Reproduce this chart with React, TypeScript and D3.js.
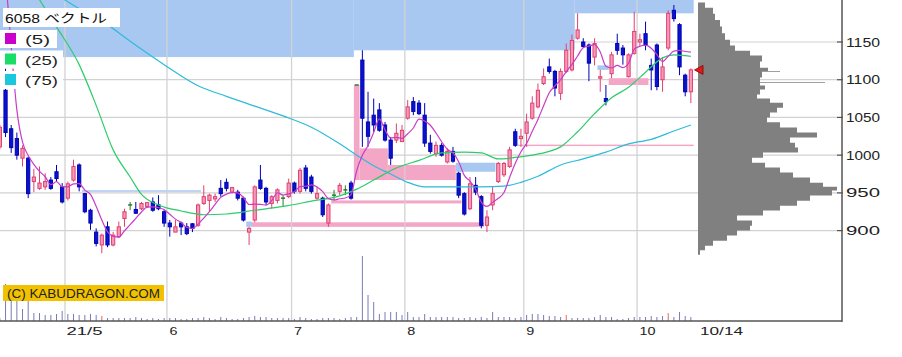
import React from "react";
import * as d3 from "d3";

// ---------- DATA ----------
const opens = [1011,1086,1035,1022,996,996,965,956,958,967,978,958,943,967,987,949,927,898,881,905,881,892,916,934,928,929,932,938,934,925,910,898,910,905,909,907,936,940,942,956,964,951,951,943,898,914,967,956,936,940,943,945,963,952,983,971,943,943,910,947,952,954,963,1093,1126,1044,1053,1060,1040,1020,1020,1018,1049,1071,1069,1053,1016,1002,1013,991,1005,976,949,929,960,945,907,934,965,974,985,1031,1022,1029,1049,1064,1095,1117,1111,1082,1111,1113,1155,1150,1146,1130,1102,1075,1108,1148,1142,1104,1135,1150,1161,1119,1146,1100,1142,1192,1173,1106,1084];
const highs = [1040,1115,1040,1030,1013,998,982,985,976,971,987,963,965,994,989,950,929,903,896,912,898,912,929,938,938,938,938,944,947,927,914,914,912,910,910,936,960,949,949,967,969,958,954,945,905,960,987,958,947,956,947,969,965,983,987,974,958,945,936,954,963,960,966,1093,1139,1084,1075,1069,1044,1024,1042,1040,1073,1077,1073,1069,1027,1018,1016,1009,1011,978,951,971,971,947,927,958,991,991,1011,1035,1035,1055,1078,1095,1115,1128,1113,1115,1148,1160,1188,1155,1148,1155,1113,1093,1137,1161,1146,1135,1190,1161,1177,1128,1148,1130,1192,1199,1175,1108,1115];
const lows = [1008,1024,1003,994,985,943,951,954,954,954,965,936,940,965,952,923,901,879,870,878,879,890,905,927,922,927,930,925,927,905,892,898,894,894,898,905,934,925,938,945,952,949,940,912,881,911,954,934,929,936,932,943,949,949,952,949,941,918,905,940,947,947,941,1093,1011,1011,1031,1031,1018,987,1016,1018,1047,1053,1053,1011,1002,998,998,989,990,943,920,927,947,903,898,927,963,971,983,1011,1011,1011,1047,1062,1093,1108,1078,1073,1109,1111,1153,1142,1098,1119,1084,1066,1102,1133,1120,1103,1133,1144,1139,1086,1086,1084,1139,1177,1106,1078,1069];
const closes = [1037,1030,1010,1000,1009,949,971,963,965,956,969,938,962,985,958,925,910,883,894,881,894,905,925,934,923,936,937,927,929,910,905,905,905,896,903,934,945,947,945,949,956,957,943,914,903,958,956,938,945,954,943,963,952,980,956,952,949,921,934,947,960,954,943,1093,1049,1025,1040,1033,1020,996,1029,1033,1064,1058,1055,1016,1005,1013,1000,1005,992,947,922,962,951,907,918,949,989,989,1007,1013,1025,1044,1069,1086,1104,1111,1089,1111,1139,1152,1166,1144,1122,1148,1104,1071,1133,1139,1133,1133,1164,1153,1146,1113,1091,1117,1188,1181,1117,1084,1113];
const volumes = [30,370,250,240,120,220,80,80,60,60,70,100,70,70,60,60,70,60,50,30,30,30,30,30,40,30,20,30,20,30,30,30,20,20,30,30,40,30,20,40,30,20,20,30,40,50,40,40,30,30,30,30,20,40,30,20,20,30,30,30,20,30,40,40,650,260,190,70,90,90,90,60,90,40,40,70,40,40,40,40,40,30,30,40,30,40,30,90,40,40,40,30,40,60,70,70,60,50,50,40,60,30,30,30,30,40,60,40,40,20,20,30,40,40,40,50,40,50,80,40,90,50,40];
const redVolumeIdx = [18, 100, 118];

const ma5Lead = [1330, 1238, 1144, 1060];
const ma25Idx = [0,3,7,10,14,17,20,23,25,28,32,36,40,45,50,55,60,63,66,70,74,78,82,85,88,91,94,97,99,102,105,108,111,114,117,119,122];
const ma25Val = [1286,1252,1206,1170,1120,1066,1007,971,948,934,926,921,922,927,932,939,946,955,967,983,993,1003,1004,1003,995,997,1000,1005,1011,1031,1055,1076,1090,1110,1129,1133,1131];
const ma75Idx = [0,6,11,15,18,23,29,35,40,45,50,55,60,63,66,69,72,75,80,85,89,92,95,99,103,107,111,115,119,122];
const ma75Val = [1265,1235,1208,1190,1178,1151,1120,1092,1078,1065,1052,1037,1015,1000,986,975,964,958,958,958,959,964,972,987,995,1004,1015,1021,1032,1040];

// gap-down windows (blue) and gap-up windows (pink)
const blueStart = [0, 63, 102, 15, 44, 81, 106];
const blueEnd = [62, 101, 122, 35, 44, 87, 107];
const blueLow = [1130, 1139, 1188, 951.5, 905, 978, 1113];
const blueHigh = [1260, 1260, 1260, 953.5, 912, 990, 1119];
const pinkStart = [63, 64, 69, 59, 45, 92, 108];
const pinkEnd = [63, 68, 80, 81, 85, 122, 114];
const pinkLow = [967, 967, 967, 936, 905, 1012, 1093];
const pinkHigh = [1093, 1009, 987, 940, 911, 1014, 1102];

const profilePrice = [1199,1192,1183,1175,1166,1157,1149,1142,1135,1129,1119,1113,1112,1111,1110,1106,1100,1097,1096,1095,1090,1084,1077,1073,1066,1060,1053,1047,1040,1033,1027,1020,1013,1007,1000,993,987,980,974,967,960,956,950,943,936,930,923,917,910,903,897,890,883,877,871];
const profileVol = [7,15,17,22,24,27,32,37,52,64,62,70,70,82,64,64,62,62,127,62,67,62,59,72,85,79,72,69,82,99,119,92,97,100,65,54,67,82,95,112,125,139,134,112,99,82,65,39,54,52,39,29,15,7,2];

const monthIdx = [12, 30, 52, 72, 93, 113];
const monthLabels = ["21/5", "6", "7", "8", "9", "10"];
const lastDateLabel = "10/14";
const priceTicks = [900, 950, 1000, 1050, 1100, 1150];
const title = "6058 ベクトル";
const maLabels = ["(5)", "(25)", "(75)"];
const copyright = "(C) KABUDRAGON.COM";

// ---------- CHART ----------
const W = 902, H = 357;
const N = closes.length;
const FONT = "'Liberation Sans', Arial, 'Noto Sans CJK JP', sans-serif";

export default function App() {
  const x = d3.scaleBand<number>().domain(d3.range(N)).range([-2.96, 693.7]).paddingInner(0).paddingOuter(0);
  const bw = x.bandwidth();
  const cx = (i: number) => (x(i) as number) + bw / 2;
  const y = d3.scaleLinear().domain([900, 1150]).range([230.6, 42]);
  const vol = d3.scaleLinear().domain([0, 650]).range([321, 256]);
  const prof = d3.scaleLinear().domain([0, 139]).range([698, 837]);

  const ma5: number[] = closes.map((_, i) => (i < 4 ? ma5Lead[i] : d3.mean(closes.slice(i - 4, i + 1)) as number));
  const line = d3.line<[number, number]>().x(d => cx(d[0])).y(d => y(d[1])).curve(d3.curveMonotoneX);
  const ma5Path = line(ma5.map((v, i) => [i, v]))!;
  const ma25Path = line(ma25Idx.map((k, j) => [k, ma25Val[j]]))!;
  const ma75Path = line(ma75Idx.map((k, j) => [k, ma75Val[j]]))!;

  const zoneRect = (s: number, e: number, lo: number, hi: number, fill: string, key: string) => (
    <rect key={key} x={x(s) as number} width={(x(e) as number) + bw - (x(s) as number)} y={y(hi)} height={y(lo) - y(hi)} fill={fill} />
  );

  // volume profile as one stepped outline
  const edges = profilePrice.map((p, j) => {
    const top = j === 0 ? p + 3.5 : (p + profilePrice[j - 1]) / 2;
    const bot = j === profilePrice.length - 1 ? p - 3 : (p + profilePrice[j + 1]) / 2;
    return { top: y(top), bot: y(bot), w: prof(profileVol[j]) };
  });
  let profD = `M698,${edges[0].top}`;
  edges.forEach(e => { profD += ` L${e.w},${e.top} L${e.w},${e.bot}`; });
  profD += ` L698,${edges[edges.length - 1].bot} Z`;

  const lastY = y(closes[N - 1]);

  return (
    <svg width={W} height={H} style={{ position: "absolute", left: 0, top: 0, background: "#fff" }} fontFamily={FONT}>
      <rect x={0} y={0} width={W} height={H} fill="#fff" />
      <defs>
        <clipPath id="plot"><rect x={0} y={0} width={842} height={321} /></clipPath>
      </defs>
      <g clipPath="url(#plot)">
        {/* horizontal grid */}
        {priceTicks.map(t => <line key={"hg" + t} x1={0} x2={842} y1={y(t)} y2={y(t)} stroke="#d2d2d2" strokeWidth={1.2} />)}
        {/* zones */}
        {blueStart.map((s, j) => zoneRect(s, blueEnd[j], blueLow[j], blueHigh[j], "#a8c8f2", "bz" + j))}
        {pinkStart.map((s, j) => zoneRect(s, pinkEnd[j], pinkLow[j], pinkHigh[j], "#f3a6c6", "pz" + j))}
        {/* vertical grid */}
        {monthIdx.map(k => <line key={"vg" + k} x1={x(k) as number} x2={x(k) as number} y1={0} y2={321} stroke="#d2d2d2" strokeWidth={1.3} />)}
        {/* volume */}
        {volumes.map((v, i) => (
          <line key={"v" + i} x1={cx(i)} x2={cx(i)} y1={321} y2={vol(v)} stroke={redVolumeIdx.includes(i) ? "#e06a6a" : "#7a7ab8"} strokeWidth={1} />
        ))}
        {/* candles */}
        {closes.map((c, i) => {
          const o = opens[i], h = highs[i], l = lows[i];
          const X = cx(i);
          if (o === c) {
            return (
              <g key={"c" + i}>
                <line x1={X} x2={X} y1={y(h)} y2={y(l)} stroke="#2a7a2a" strokeWidth={1} />
                <line x1={X - 2} x2={X + 2} y1={y(c)} y2={y(c)} stroke="#2a7a2a" strokeWidth={1.5} />
              </g>
            );
          }
          const up = c > o;
          const stroke = up ? "#e0406e" : "#0000b4";
          const fill = up ? "#f59abb" : "#0a14cc";
          const top = y(Math.max(o, c)), bot = y(Math.min(o, c));
          return (
            <g key={"c" + i}>
              <line x1={X} x2={X} y1={y(h)} y2={y(l)} stroke={stroke} strokeWidth={1} />
              <rect x={X - 1.6} y={top} width={3.2} height={Math.max(1, bot - top)} fill={fill} stroke={stroke} strokeWidth={1} />
            </g>
          );
        })}
        {/* moving averages */}
        <path d={ma75Path} fill="none" stroke="#2cbcd8" strokeWidth={1.2} />
        <path d={ma25Path} fill="none" stroke="#2ccc6a" strokeWidth={1.2} />
        <path d={ma5Path} fill="none" stroke="#c83cc8" strokeWidth={1.2} />
        {/* volume profile */}
        <path d={profD} fill="#808080" stroke="none" />
        {/* last price marker */}
        <path d={`M694.5,${lastY} L703,${lastY - 4.5} L703,${lastY + 4.5} Z`} fill="#e01a1a" stroke="#8a0000" strokeWidth={0.8} />
      </g>
      {/* axes */}
      <line x1={842} x2={842} y1={0} y2={322} stroke="#555" strokeWidth={1.5} />
      <line x1={0} x2={842} y1={321} y2={321} stroke="#555" strokeWidth={1.5} />
      {priceTicks.map(t => (
        <g key={"yt" + t}>
          <line x1={837} x2={843} y1={y(t)} y2={y(t)} stroke="#555" strokeWidth={1.2} />
          <text x={846} y={y(t) + 4.5} fontSize={12} fill="#222" textLength={34} lengthAdjust="spacingAndGlyphs">{t}</text>
        </g>
      ))}
      {monthIdx.map((k, j) => (
        <text key={"xl" + k} x={(x(k) as number) + (j === 0 ? 1.5 : 2.5)} y={335} fontSize={11.5} fill="#222"
          textLength={j === 0 ? 36 : monthLabels[j].length * 8} lengthAdjust="spacingAndGlyphs">{monthLabels[j]}</text>
      ))}
      <text x={700} y={335} fontSize={11.5} fill="#222" textLength={43} lengthAdjust="spacingAndGlyphs">{lastDateLabel}</text>
      {/* legend */}
      <rect x={3} y={8} width={117} height={19} fill="#fff" />
      <text x={5} y={23} fontSize={12.5} fill="#111" textLength={102} lengthAdjust="spacingAndGlyphs">{title}</text>
      {maLabels.map((lb, j) => {
        const ty = 30 + j * 20.5;
        const col = ["#cc00cc", "#19dd66", "#19c8dd"][j];
        return (
          <g key={"lg" + j}>
            <rect x={0} y={ty} width={j === 0 ? 57 : 63} height={18} fill="#fff" />
            <rect x={5} y={ty + 3} width={11} height={11} fill={col} />
            <text x={25} y={ty + 14} fontSize={13} fill="#222" textLength={j === 0 ? 25 : 33} lengthAdjust="spacingAndGlyphs">{lb}</text>
          </g>
        );
      })}
      {/* copyright */}
      <rect x={3} y={285} width={161} height={16} fill="#f2c200" />
      <text x={7} y={297.5} fontSize={12} fill="#222" textLength={153} lengthAdjust="spacingAndGlyphs">{copyright}</text>
    </svg>
  );
}
